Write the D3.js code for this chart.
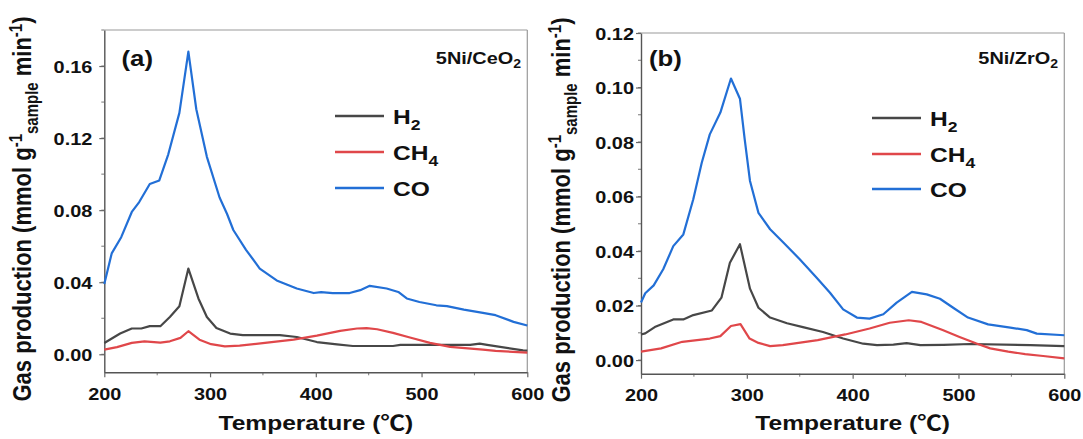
<!DOCTYPE html>
<html>
<head>
<meta charset="utf-8">
<script src="https://cdn.jsdelivr.net/npm/d3@7"></script>
<style>
  html, body { margin: 0; padding: 0; background: #fff; }
  svg { display: block; }
  text { font-family: "Liberation Sans", Arial, "Noto Sans CJK KR", sans-serif; font-weight: bold; fill: #111; }
</style>
</head>
<body>
<svg id="chart" width="1083" height="439"></svg>
<script>
// ---------------- DATA ----------------
const seriesNames = ["H2", "CH4", "CO"];
const xTicks = [200, 300, 400, 500, 600];
const yTicksA = [0.00, 0.04, 0.08, 0.12, 0.16];
const yTicksB = [0.00, 0.02, 0.04, 0.06, 0.08, 0.10, 0.12];

// Panel (a) 5Ni/CeO2
const aH2_T  = [200, 215, 226, 235, 243, 253, 262, 271, 279.5, 289, 297, 306, 319, 331, 366, 382, 401, 420, 435, 473, 480, 546, 555, 562, 596, 600];
const aH2_V  = [0.0063, 0.0115, 0.0143, 0.0143, 0.0156, 0.0156, 0.0207, 0.0267, 0.0476, 0.031, 0.0207, 0.0146, 0.0115, 0.0106, 0.0106, 0.0096, 0.0068, 0.0055, 0.0046, 0.0046, 0.0052, 0.0052, 0.0059, 0.0052, 0.0022, 0.002];
const aCH4_T = [200, 212, 226, 238, 253, 262, 272, 279.5, 290, 301, 314, 328, 354, 379, 401, 423, 439, 448, 458, 473, 489, 508, 527, 558, 570, 600];
const aCH4_V = [0.0026, 0.004, 0.0063, 0.0072, 0.0065, 0.0072, 0.0091, 0.0128, 0.0081, 0.0056, 0.0044, 0.0048, 0.0065, 0.0081, 0.0104, 0.013, 0.0143, 0.0145, 0.0139, 0.0119, 0.0093, 0.0063, 0.0041, 0.0026, 0.0019, 0.0009];
const aCO_T  = [200, 207, 216, 226, 233, 243, 252, 260.5, 271, 279.5, 287, 297, 309, 316, 322, 334, 347, 363, 382, 398, 405, 416, 432, 442, 451, 467, 478, 486, 498, 514, 524, 540, 558, 570, 587, 600];
const aCO_V  = [0.039, 0.056, 0.065, 0.079, 0.0845, 0.0945, 0.0965, 0.111, 0.134, 0.168, 0.136, 0.1096, 0.087, 0.078, 0.069, 0.058, 0.0476, 0.041, 0.0365, 0.034, 0.0345, 0.034, 0.034, 0.0356, 0.038, 0.0365, 0.0346, 0.031, 0.029, 0.0272, 0.0267, 0.0248, 0.023, 0.0217, 0.018, 0.016];

// Panel (b) 5Ni/ZrO2
const bH2_T  = [200, 204, 213, 230.5, 240, 249.4, 267, 276, 284, 293.5, 303, 311, 322, 338, 353, 372, 391, 410, 423, 438.5, 451, 464, 486, 511, 568, 600];
const bH2_V  = [0.0094, 0.0098, 0.0121, 0.0149, 0.0149, 0.0165, 0.0182, 0.0229, 0.0357, 0.0425, 0.0262, 0.0192, 0.0156, 0.0135, 0.0121, 0.0103, 0.0079, 0.006, 0.0055, 0.0057, 0.0062, 0.0055, 0.0056, 0.0059, 0.0055, 0.0051];
const bCH4_T = [200, 219, 239, 265, 275, 285, 294, 302.6, 311, 322, 334, 367, 393, 416, 435, 453, 465, 485, 501, 517, 530, 547, 563, 580, 600];
const bCH4_V = [0.0031, 0.0043, 0.0067, 0.0079, 0.0088, 0.0125, 0.0132, 0.0079, 0.0063, 0.0051, 0.0055, 0.0073, 0.0094, 0.0116, 0.0137, 0.0146, 0.014, 0.011, 0.0085, 0.0061, 0.0043, 0.0031, 0.0022, 0.0015, 0.0006];
const bCO_T  = [200, 204, 212, 221, 230.5, 240, 249.4, 257.4, 265, 275, 285, 293.5, 298, 303, 311, 322, 334.5, 350, 366, 378.6, 391, 404, 416, 429, 441.6, 456, 470, 482.5, 495, 509, 528, 549, 564.5, 574, 600];
const bCO_V  = [0.0211, 0.0245, 0.0274, 0.0333, 0.0418, 0.0461, 0.059, 0.0724, 0.0828, 0.0908, 0.1033, 0.0959, 0.081, 0.0657, 0.054, 0.048, 0.0431, 0.037, 0.0302, 0.0247, 0.0186, 0.0156, 0.0152, 0.0168, 0.0211, 0.025, 0.0241, 0.0225, 0.0192, 0.0156, 0.0131, 0.0119, 0.011, 0.0097, 0.0091];

// ---------------- STYLE ----------------
const colors = { H2: "#474747", CH4: "#e0474a", CO: "#226fd6" };
const SX = 1.17; // horizontal stretch of the reference lettering

const svg = d3.select("#chart");

function txt(g, x, y, str, size, anchor) {
  return g.append("text")
    .attr("transform", `translate(${x},${y}) scale(${SX},1)`)
    .attr("font-size", size)
    .attr("text-anchor", anchor || "start")
    .text(str);
}

function panel(cfg) {
  const g = svg.append("g");
  const x = d3.scaleLinear().domain([200, 600]).range([cfg.left, cfg.right]);
  const y = d3.scaleLinear().domain(cfg.yDomain).range([cfg.bottom, cfg.top]);

  // frame top/right (light)
  g.append("line").attr("x1", cfg.left).attr("x2", cfg.right).attr("y1", cfg.top).attr("y2", cfg.top)
    .attr("stroke", "#9a9a9a").attr("stroke-width", 1.2);
  g.append("line").attr("x1", cfg.right).attr("x2", cfg.right).attr("y1", cfg.top).attr("y2", cfg.bottom)
    .attr("stroke", "#9a9a9a").attr("stroke-width", 1.2);

  // minor ticks
  const yMinor = d3.range(0, cfg.yDomain[1] + 1e-9, cfg.yMinorStep);
  g.selectAll(".ymin").data(yMinor).join("line")
    .attr("x1", cfg.left - 3).attr("x2", cfg.left)
    .attr("y1", d => y(d)).attr("y2", d => y(d))
    .attr("stroke", "#777").attr("stroke-width", 1);
  g.selectAll(".xmin").data(d3.range(250, 600, 100)).join("line")
    .attr("x1", d => x(d)).attr("x2", d => x(d))
    .attr("y1", cfg.bottom).attr("y2", cfg.bottom + 3)
    .attr("stroke", "#777").attr("stroke-width", 1);

  // axes
  const xAxis = g.append("g").attr("transform", `translate(0,${cfg.bottom})`)
    .call(d3.axisBottom(x).tickValues(xTicks).tickSize(5).tickSizeOuter(0).tickFormat(d3.format("d")));
  const yAxis = g.append("g").attr("transform", `translate(${cfg.left},0)`)
    .call(d3.axisLeft(y).tickValues(cfg.yTicks).tickSize(5).tickSizeOuter(0).tickFormat(d3.format(".2f")));
  [xAxis, yAxis].forEach(a => {
    a.select(".domain").attr("stroke", "#555").attr("stroke-width", 1.4);
    a.selectAll(".tick line").attr("stroke", "#666").attr("stroke-width", 1.2);
    a.selectAll("text").attr("font-size", 17).attr("fill", "#111")
      .style("font-family", '"Liberation Sans", Arial, sans-serif').style("font-weight", "bold");
  });
  xAxis.selectAll(".tick text").attr("y", null).attr("dy", null)
    .attr("transform", `translate(0,${cfg.xLabelBase - cfg.bottom}) scale(${SX},1)`);
  yAxis.selectAll(".tick text").attr("x", null).attr("dy", null)
    .attr("transform", `translate(${-cfg.yLabelGap},6) scale(${SX},1)`);

  // series
  const series = [
    { name: "H2", T: cfg.H2_T, V: cfg.H2_V },
    { name: "CH4", T: cfg.CH4_T, V: cfg.CH4_V },
    { name: "CO", T: cfg.CO_T, V: cfg.CO_V }
  ];
  const line = d3.line().x(d => x(d[0])).y(d => y(d[1]));
  g.selectAll(".series").data(series).join("path")
    .attr("fill", "none")
    .attr("stroke", d => colors[d.name])
    .attr("stroke-width", 2.2)
    .attr("stroke-linejoin", "round")
    .attr("d", d => line(d.T.map((t, i) => [t, d.V[i]])));

  // legend
  const lg = g.append("g");
  seriesNames.forEach((n, i) => {
    const ly = cfg.legendY[i];
    lg.append("line").attr("x1", cfg.legendX).attr("x2", cfg.legendX + 49)
      .attr("y1", ly).attr("y2", ly).attr("stroke", colors[n]).attr("stroke-width", 2.6);
    const t = lg.append("text")
      .attr("transform", `translate(${cfg.legendX + 58},${ly + 8}) scale(${SX},1)`)
      .attr("font-size", 21);
    const base = n === "CO" ? "CO" : (n === "H2" ? "H" : "CH");
    t.append("tspan").text(base);
    if (n !== "CO") t.append("tspan").attr("font-size", 15).attr("dy", 6).text(n === "H2" ? "2" : "4");
  });

  // panel letter
  txt(g, cfg.letterX, 66, cfg.letter, 22, "start");

  // sample name
  const s = g.append("text")
    .attr("transform", `translate(${cfg.sampleRight},${64}) scale(${SX},1)`)
    .attr("font-size", 17).attr("text-anchor", "end");
  s.append("tspan").text(cfg.sample);
  s.append("tspan").attr("font-size", 12).attr("dy", 4).text("2");

  // x title
  txt(g, (cfg.left + cfg.right) / 2, 430, "Temperature (℃)", 21, "middle");

  // y title
  const yt = g.append("text")
    .attr("transform", `translate(${cfg.yTitleX},${cfg.yTitleY}) scale(${SX},1) rotate(-90)`)
    .attr("font-size", 22).attr("text-anchor", "middle");
  yt.append("tspan").text("Gas production (mmol g");
  yt.append("tspan").attr("font-size", 15).attr("dy", -8).text("-1");
  yt.append("tspan").attr("font-size", 15).attr("dy", 14).text("sample");
  yt.append("tspan").attr("dy", -6).text(" min");
  yt.append("tspan").attr("font-size", 15).attr("dy", -8).text("-1");
  yt.append("tspan").attr("dy", 8).text(")");
}

panel({
  left: 104.3, right: 527.3, top: 30, bottom: 372.3,
  yDomain: [-0.01, 0.18], yTicks: yTicksA, yMinorStep: 0.02,
  xLabelBase: 400, yLabelGap: 12,
  H2_T: aH2_T, H2_V: aH2_V, CH4_T: aCH4_T, CH4_V: aCH4_V, CO_T: aCO_T, CO_V: aCO_V,
  legendX: 335, legendY: [116, 152, 188],
  letter: "(a)", letterX: 121.5, sample: "5Ni/CeO", sampleRight: 521,
  yTitleX: 31, yTitleY: 209
});

panel({
  left: 641, right: 1064.3, top: 33, bottom: 373.7,
  yDomain: [-0.005, 0.12], yTicks: yTicksB, yMinorStep: 0.01,
  xLabelBase: 401, yLabelGap: 7,
  H2_T: bH2_T, H2_V: bH2_V, CH4_T: bCH4_T, CH4_V: bCH4_V, CO_T: bCO_T, CO_V: bCO_V,
  legendX: 872, legendY: [118, 154, 189],
  letter: "(b)", letterX: 649, sample: "5Ni/ZrO", sampleRight: 1058,
  yTitleX: 570, yTitleY: 210
});
</script>
</body>
</html>
